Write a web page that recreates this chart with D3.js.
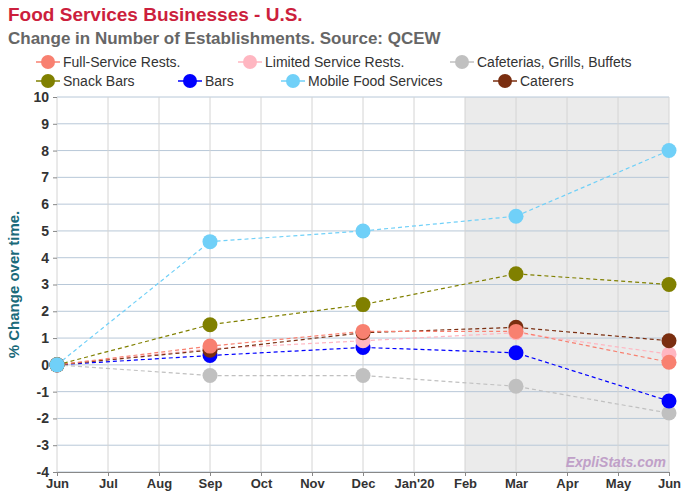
<!DOCTYPE html>
<html><head><meta charset="UTF-8">
<script src="https://d3js.org/d3.v7.min.js"></script>
<style>body{margin:0;font-family:Arial,"Liberation Sans",sans-serif;background:#fff}</style>
</head><body><svg id="chart" width="700" height="500"></svg>
<script>
const months = ["Jun","Jul","Aug","Sep","Oct","Nov","Dec","Jan'20","Feb","Mar","Apr","May","Jun"];
const pointMonths = [0, 3, 6, 9, 12];
const seriesNames = ["Full-Service Rests.","Limited Service Rests.","Cafeterias, Grills, Buffets","Snack Bars","Bars","Mobile Food Services","Caterers"];
const seriesColors = ["#f88070","#ffb6c1","#c0c0c0","#808000","#0000ff","#70d0f8","#7a2e10"];
const fullService = [0, 0.7, 1.25, 1.25, 0.1];
const limitedService = [0, 0.6, 0.9, 1.2, 0.4];
const cafeterias = [0, -0.4, -0.4, -0.8, -1.8];
const snackBars = [0, 1.5, 2.25, 3.4, 3.0];
const bars = [0, 0.35, 0.65, 0.45, -1.35];
const mobile = [0, 4.6, 5.0, 5.55, 8.0];
const caterers = [0, 0.55, 1.2, 1.4, 0.9];
const seriesValues = [fullService, limitedService, cafeterias, snackBars, bars, mobile, caterers];
const drawOrder = [2, 4, 1, 6, 0, 3, 5];

const svg = d3.select("#chart");
const m = {l:57, r:669, t:97, b:472};
const x = d3.scaleLinear().domain([0,12]).range([m.l,m.r]);
const y = d3.scaleLinear().domain([-4,10]).range([m.b,m.t]);

svg.append("text").attr("x",8).attr("y",21).attr("fill","#cc1f3d").attr("font-size",19).attr("font-weight","bold").text("Food Services Businesses - U.S.");
svg.append("text").attr("x",8).attr("y",44).attr("fill","#666").attr("font-size",17).attr("font-weight","bold").text("Change in Number of Establishments. Source: QCEW");

// legend
const legPos = [[48,62],[250,62],[462,62],[48,81],[190,81],[293,81],[505,81]];
seriesNames.forEach((n,i)=>{
  const g = svg.append("g").attr("transform",`translate(${legPos[i][0]},${legPos[i][1]})`);
  g.append("line").attr("x1",-12).attr("x2",12).attr("stroke",seriesColors[i]).attr("stroke-width",1.5);
  g.append("circle").attr("r",7).attr("fill",seriesColors[i]);
  g.append("text").attr("x",15).attr("y",5).attr("font-size",14).attr("fill","#333").attr("textLength",null).text(n);
});

svg.append("rect").attr("x",x(8)).attr("y",m.t).attr("width",x(12)-x(8)).attr("height",m.b-m.t).attr("fill","#ebebeb");

svg.append("g").selectAll("line").data(d3.range(-4,11)).join("line")
  .attr("x1",m.l).attr("x2",m.r).attr("y1",d=>y(d)).attr("y2",d=>y(d)).attr("stroke","#b8c8d8");
svg.append("g").selectAll("line").data(d3.range(0,13)).join("line")
  .attr("y1",m.t).attr("y2",m.b).attr("x1",d=>x(d)).attr("x2",d=>x(d)).attr("stroke","#d4d4d4");

const ya = svg.append("g").attr("transform",`translate(${m.l},0)`).call(d3.axisLeft(y).ticks(14).tickSize(4).tickPadding(4).tickFormat(d=>String(d)));
ya.select(".domain").remove();
ya.selectAll("text").attr("font-size",14).attr("font-weight","bold").attr("fill","#333").attr("font-family","Arial,'Liberation Sans'");
ya.selectAll("line").attr("stroke","#888");
const xa = svg.append("g").attr("transform",`translate(0,${m.b})`).call(d3.axisBottom(x).ticks(12).tickSize(4).tickFormat(i=>months[i]));
xa.select(".domain").attr("stroke","#888");
xa.selectAll("text").attr("font-size",13).attr("font-weight","bold").attr("fill","#333").attr("font-family","Arial,'Liberation Sans'");
xa.selectAll("line").attr("stroke","#888");

svg.append("text").attr("transform",`translate(19,${(m.t+m.b)/2}) rotate(-90)`).attr("text-anchor","middle")
  .attr("fill","#1a6a7a").attr("font-size",15).attr("font-weight","bold").text("% Change over time.");

const line = d3.line().x((d,i)=>x(pointMonths[i])).y(d=>y(d));
drawOrder.forEach(i=>{
  svg.append("path").attr("d",line(seriesValues[i])).attr("fill","none").attr("stroke",seriesColors[i]).attr("stroke-width",1.2).attr("stroke-dasharray","4,3");
});
drawOrder.forEach(i=>{
  svg.append("g").selectAll("circle").data(seriesValues[i]).join("circle")
    .attr("cx",(d,j)=>x(pointMonths[j])).attr("cy",d=>y(d)).attr("r",7.5).attr("fill",seriesColors[i]);
});

svg.append("text").attr("x",666).attr("y",467).attr("text-anchor","end").attr("font-size",14).attr("font-style","italic").attr("font-weight","bold").attr("fill","#c0a0c8").text("ExpliStats.com");
</script></body></html>
